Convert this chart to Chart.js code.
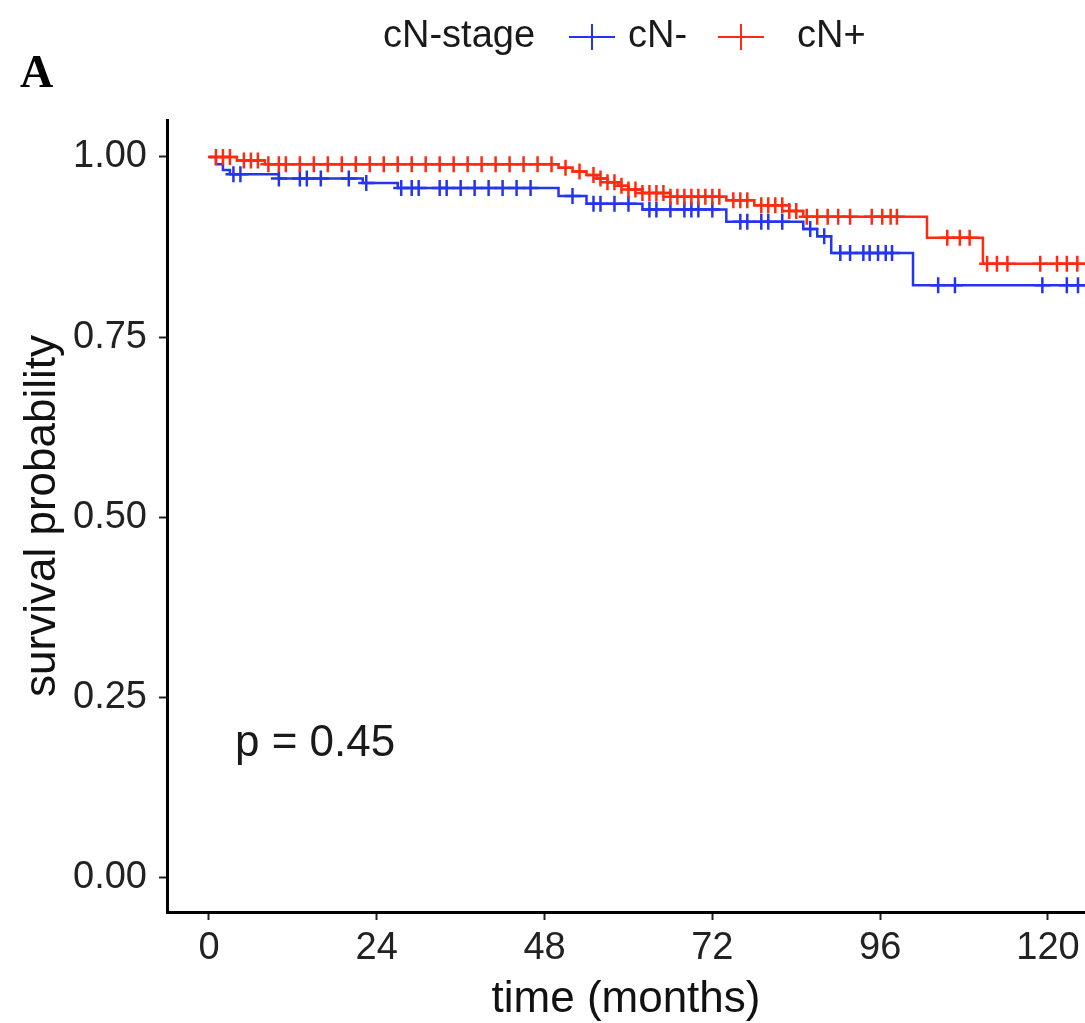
<!DOCTYPE html>
<html>
<head>
<meta charset="utf-8">
<script src="https://cdn.jsdelivr.net/npm/chart.js@4.4.1/dist/chart.umd.min.js"></script>
<style>
  body { margin: 0; background: #fff; }
  #wrap { position: relative; width: 1085px; height: 1023px; overflow: hidden; font-family: "Liberation Sans", Arial, sans-serif; }
  canvas { position: absolute; left: 0; top: 0; }
  .txt { position: absolute; white-space: nowrap; color: #1a1a1a; }
  .key { position: absolute; width: 46px; height: 26px; }
  .key i { position: absolute; display: block; }
</style>
</head>
<body>
<div id="wrap">
  <canvas id="km" width="1085" height="1023"></canvas>
  <div class="txt" style="left:20px; top:49px; font:bold 46px/46px 'Liberation Serif', serif; color:#000;">A</div>
  <div class="txt" style="left:383px; top:15px; font-size:38px; line-height:38px;">cN-stage</div>
  <div class="key" id="keyBlue" style="left:569px; top:24px;"></div>
  <div class="txt" style="left:628px; top:15px; font-size:38px; line-height:38px;">cN-</div>
  <div class="key" id="keyRed" style="left:718px; top:24px;"></div>
  <div class="txt" style="left:797px; top:15px; font-size:38px; line-height:38px;">cN+</div>
  <div class="txt" style="left:235px; top:719px; font-size:44px; line-height:44px;">p = 0.45</div>
</div>
<script>
// kaplan-meier, cN- vs cN+
const blueColor = '#2434f0';
const redColor = '#ff2a10';

const xTicks = [0, 24, 48, 72, 96, 120];
const yTicks = [0, 0.25, 0.5, 0.75, 1];

// cN- : time of each step and survival after it
const blueTimes = [0, 1, 2, 3, 10, 22, 27, 50, 54, 62, 74, 85, 87, 89, 100.7, 130];
const blueSurv  = [1, 0.99, 0.982, 0.976, 0.97, 0.964, 0.957, 0.946, 0.935, 0.927, 0.91, 0.90, 0.89, 0.867, 0.822, 0.822];
const blueCensor = [3.5, 4.5, 10, 13, 14, 16, 20, 22.5, 27.5, 29, 30, 33, 34, 36, 38, 40, 42, 44, 46,
                    52, 55, 56, 58, 60, 63, 64, 66, 68, 69, 70, 72, 76, 77, 79, 80, 82, 86, 88,
                    90.3, 91.7, 93.6, 94.5, 95.7, 96.8, 97.7, 104.3, 106.7, 119.2, 122.7, 124.3];

// cN+
const redTimes = [0, 4, 8, 50, 52, 54, 55.5, 57, 58.5, 60, 62, 66, 74, 78, 83, 85, 102.7, 110.7, 130];
const redSurv  = [1, 0.995, 0.99, 0.985, 0.98, 0.975, 0.97, 0.965, 0.96, 0.955, 0.95, 0.945, 0.94, 0.933, 0.925, 0.917, 0.888, 0.852, 0.852];
const redCensor = [1, 2, 3, 5, 6, 7, 8.5, 10, 11, 13, 15, 17, 19, 21, 23, 25, 27, 29, 31, 33, 35, 37, 39,
                   41, 43, 45, 47, 49, 51, 53, 55, 56, 57, 58, 59, 60, 61, 62, 63, 64, 65, 66, 67, 68,
                   69, 70, 71, 72, 73, 75, 76, 77, 79, 80, 81, 82, 83, 84, 85.5, 87, 88.5, 90, 91.7,
                   94.8, 96.3, 97.5, 98.4, 105.6, 107.4, 108.8, 111.3, 112.7, 114.2, 118.9, 121.3, 122.7, 124.2];

function survAt(times, surv, t) {
    let s = surv[0];
    for (let i = 0; i < times.length; i++) {
        if (times[i] <= t) s = surv[i];
    }
    return s;
}

const curve = (times, surv) => times.map((t, i) => ({ x: t, y: surv[i] }));
const marks = (times, surv, cens) => cens.map(t => ({ x: t, y: survAt(times, surv, t) }));

// legend keys (line with cross)
function drawKey(id, color) {
    const el = document.getElementById(id);
    el.innerHTML = '<i style="left:0;top:12px;width:46px;height:2px;background:' + color + '"></i>' +
                   '<i style="left:22px;top:0;width:2px;height:26px;background:' + color + '"></i>';
}
drawKey('keyBlue', blueColor);
drawKey('keyRed', redColor);

const ctx = document.getElementById('km').getContext('2d');

const chart = new Chart(ctx, {
    type: 'scatter',
    data: {
        datasets: [
            {
                label: 'cN+',
                data: curve(redTimes, redSurv),
                showLine: true,
                stepped: true,
                borderColor: redColor,
                borderWidth: 2.5,
                pointRadius: 0,
                order: 0
            },
            {
                label: 'cN+ censored',
                data: marks(redTimes, redSurv, redCensor),
                pointStyle: 'cross',
                pointRadius: 8,
                borderWidth: 2.5,
                borderColor: redColor,
                order: 0
            },
            {
                label: 'cN-',
                data: curve(blueTimes, blueSurv),
                showLine: true,
                stepped: true,
                borderColor: blueColor,
                borderWidth: 2.5,
                pointRadius: 0,
                order: 1
            },
            {
                label: 'cN- censored',
                data: marks(blueTimes, blueSurv, blueCensor),
                pointStyle: 'cross',
                pointRadius: 8,
                borderWidth: 2.5,
                borderColor: blueColor,
                order: 1
            }
        ]
    },
    options: {
        responsive: false,
        animation: false,
        devicePixelRatio: 1,
        layout: { autoPadding: false, padding: { top: 120, right: 0, left: 0, bottom: 0 } },
        plugins: {
            legend: { display: false },
            tooltip: { enabled: false }
        },
        scales: {
            x: {
                type: 'linear',
                min: -6,
                max: 125.3,
                afterFit: s => { s.height = 111; s.paddingRight = 0; s.paddingLeft = 0; },
                afterBuildTicks: s => { s.ticks = xTicks.map(v => ({ value: v })); },
                grid: { drawOnChartArea: false, drawTicks: true, tickLength: 8, tickWidth: 2, color: '#222' },
                border: { display: true, color: '#000', width: 3 },
                ticks: {
                    padding: 6,
                    color: '#222',
                    maxRotation: 0,
                    font: { family: 'Liberation Sans', size: 38 }
                },
                title: {
                    display: true,
                    text: 'time (months)',
                    color: '#111',
                    padding: { top: 0, bottom: 1 },
                    font: { family: 'Liberation Sans', size: 44, lineHeight: 1 }
                }
            },
            y: {
                type: 'linear',
                min: -0.0472,
                max: 1.0513,
                afterFit: s => { s.width = 167; },
                afterBuildTicks: s => { s.ticks = yTicks.map(v => ({ value: v })); },
                grid: { drawOnChartArea: false, drawTicks: true, tickLength: 8, tickWidth: 2, color: '#222' },
                border: { display: true, color: '#000', width: 3 },
                ticks: {
                    padding: 12,
                    color: '#222',
                    font: { family: 'Liberation Sans', size: 38 },
                    callback: v => v.toFixed(2)
                },
                title: {
                    display: true,
                    text: 'survival probability',
                    color: '#111',
                    padding: { top: 16, bottom: 0 },
                    font: { family: 'Liberation Sans', size: 44, lineHeight: 1.2 }
                }
            }
        }
    }
});
</script>
</body>
</html>
